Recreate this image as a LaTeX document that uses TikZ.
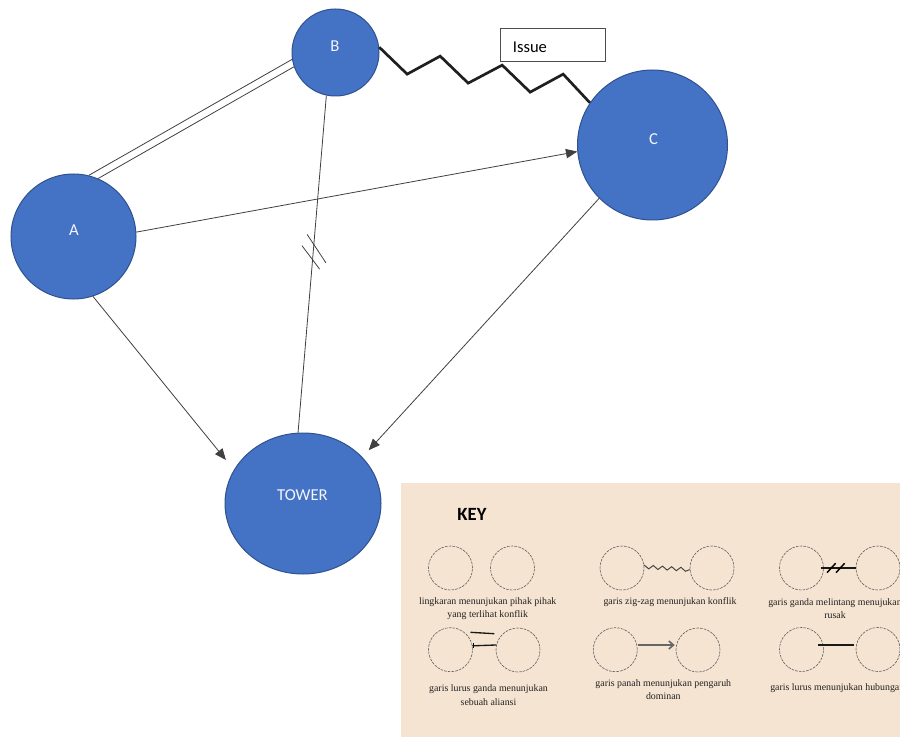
\documentclass[tikz,border=0pt]{standalone}
\usepackage{fontspec}
\setmainfont{Carlito}
\newfontfamily\keyfont{Liberation Serif}
\usetikzlibrary{shapes.geometric,arrows.meta,calc}
\definecolor{nodeblue}{HTML}{4472C4}
\definecolor{nodeedge}{HTML}{2F528F}
\definecolor{keybg}{RGB}{245,228,210}
\definecolor{linegray}{HTML}{404040}
\definecolor{keytext}{HTML}{222222}
\begin{document}
\begin{tikzpicture}[x=0.75pt,y=-0.75pt,
  party/.style={circle,fill=nodeblue,draw=nodeedge,line width=0.75pt,inner sep=0pt},
  lbl/.style={text=white!93!nodeblue,font=\fontsize{12.5}{15}\selectfont,inner sep=0pt},
  conn/.style={draw=linegray,line width=0.6pt},
  arr/.style={conn,-{Triangle[length=8.5pt,width=7pt]}},
  keycirc/.style={circle,draw=gray!75!black,dash pattern=on 2pt off 0.8pt,line width=0.45pt,minimum size=33pt,inner sep=0pt},
  keytxt/.style={font=\keyfont\fontsize{7.4}{10}\selectfont,text=keytext,align=center,inner sep=0pt},
  keyline/.style={draw=black!90,line width=1pt}]
\useasboundingbox (0,0) rectangle (900,738);
\fill[white] (0,0) rectangle (900,738);
% key panel
\fill[keybg] (401,483) rectangle (900,737);
% parties
\node[party,minimum size=93.75pt] (A) at (73.5,236.5) {};
\node[party,minimum size=65.25pt] (B) at (335.5,52.5) {};
\node[party,minimum size=112.5pt] (C) at (652.5,145) {};
\node[ellipse,fill=nodeblue,draw=nodeedge,line width=0.75pt,inner sep=0pt,minimum width=117pt,minimum height=105.75pt] (T) at (303,503.5) {};
\node[lbl] (tA) at (74,230.5) {A};
\node[lbl] (tB) at (335,46) {B};
\node[lbl] (tC) at (653.5,139) {C};
\node[lbl] (tT) at (302.5,495.5) {TOWER};
% connectors
\draw[conn] (A.76) -- (B.189);
\draw[conn] (A.67) -- (B.199);
\draw[arr] (A.4) -- (C.185);
\draw[arr,shorten >=9.5pt] (A.-72) -- (T.154);
\draw[arr,shorten >=7pt] (C.-135) -- (T.38);
\draw[conn] (B.-102) -- (T.94) coordinate[pos=0.454] (h1) coordinate[pos=0.48] (h2);
\draw[conn] ($(h1)+(3-9.4,-14.2)$) -- ($(h1)+(3+9.4,14.2)$);
\draw[conn] ($(h2)+(-2-8.8,-11.7)$) -- ($(h2)+(-2+8.8,11.7)$);
\draw[line width=2pt,draw=black!88,line join=miter] (B.7) -- ++(28,27) -- ++(33,-18) -- ++(28,27) -- ++(34,-18) -- ++(28,27) -- ++(33,-18) -- (C.146);
% issue box
\node[draw=gray!60!black,fill=white,line width=0.6pt,minimum width=79.3pt,minimum height=25pt,inner sep=0pt] (issue) at (552.9,45) {};
\node[font=\fontsize{12.4}{15}\selectfont,anchor=west,inner sep=0pt] (issuetxt) at (512.7,47.5) {Issue};
% key
\node[font=\bfseries\fontsize{14}{16}\selectfont,inner sep=0pt] (key) at (472,514) {KEY};
\node[keycirc] (k1) at (450.5,568) {};
\node[keycirc] (k2) at (512.5,568) {};
\node[keycirc] (k3) at (622,568) {};
\node[keycirc] (k4) at (712,568) {};
\node[keycirc] (k5) at (801.5,568) {};
\node[keycirc] (k6) at (878,568) {};
\node[keycirc] (k7) at (450.5,649.7) {};
\node[keycirc] (k8) at (518,650) {};
\node[keycirc] (k9) at (615.3,649.7) {};
\node[keycirc] (k10) at (698,650) {};
\node[keycirc] (k11) at (801.5,649.5) {};
\node[keycirc] (k12) at (878,649.5) {};
% key lines
\draw[draw=black!75,line width=0.7pt] (k3.8) -- ++(4.6,4) -- ++(4.6,-3.4) -- ++(4.6,4) -- ++(4.6,-3.4) -- ++(4.6,4) -- ++(4.6,-3.4) -- ++(4.6,4) -- ++(4.6,-3.4) -- ++(4.6,4) -- (k4.184);
\draw[keyline] ($(k5.east)+(-3,0)$) -- (k6.west);
\draw[black,line width=1.1pt] ($(k5.east)+(7.5-4.3,4.7)$) -- ($(k5.east)+(7.5+4.3,-4.7)$);
\draw[black,line width=1.1pt] ($(k5.east)+(16.5-4.3,4.7)$) -- ($(k5.east)+(16.5+4.3,-4.7)$);
\draw[keyline] ($(k11.east)+(-6,-4.5)$) -- ($(k12.west)+(-1.5,-4.5)$);
\draw[draw=gray!80!black,line width=1.2pt,-{Straight Barb[length=3.5pt,width=6pt]}] ($(k9.east)+(0,-4.7)$) -- ($(k10.west)+(-1,-5)$);
\draw[keyline] ($(k7.center)+(20,-17.4)$) -- ($(k8.center)+(-23.7,-16.3)$);
\draw[keyline] (k7.10) -- (k8.167);
\draw[black,line width=0.6pt] ($(k7.10)+(0.5,-2.9)$) -- ($(k7.10)+(0.5,2.1)$);
\node[keytxt] (d1) at (487.7,608.4) {lingkaran menunjukan pihak pihak\\yang terlihat konflik};
\node[keytxt] (d2) at (670,601.7) {garis zig-zag menunjukan konflik};
\node[keytxt] (d3) at (835,608.4) {garis ganda melintang menujukan\\rusak};
\node[keytxt] (d4) at (488.5,695) {garis lurus ganda menunjukan\\sebuah aliansi};
\node[keytxt] (d5) at (663.3,689.4) {garis panah menunjukan pengaruh\\dominan};
\node[keytxt,anchor=west] (d6) at (770,688) {garis lurus menunjukan hubungan};
\end{tikzpicture}
\end{document}
